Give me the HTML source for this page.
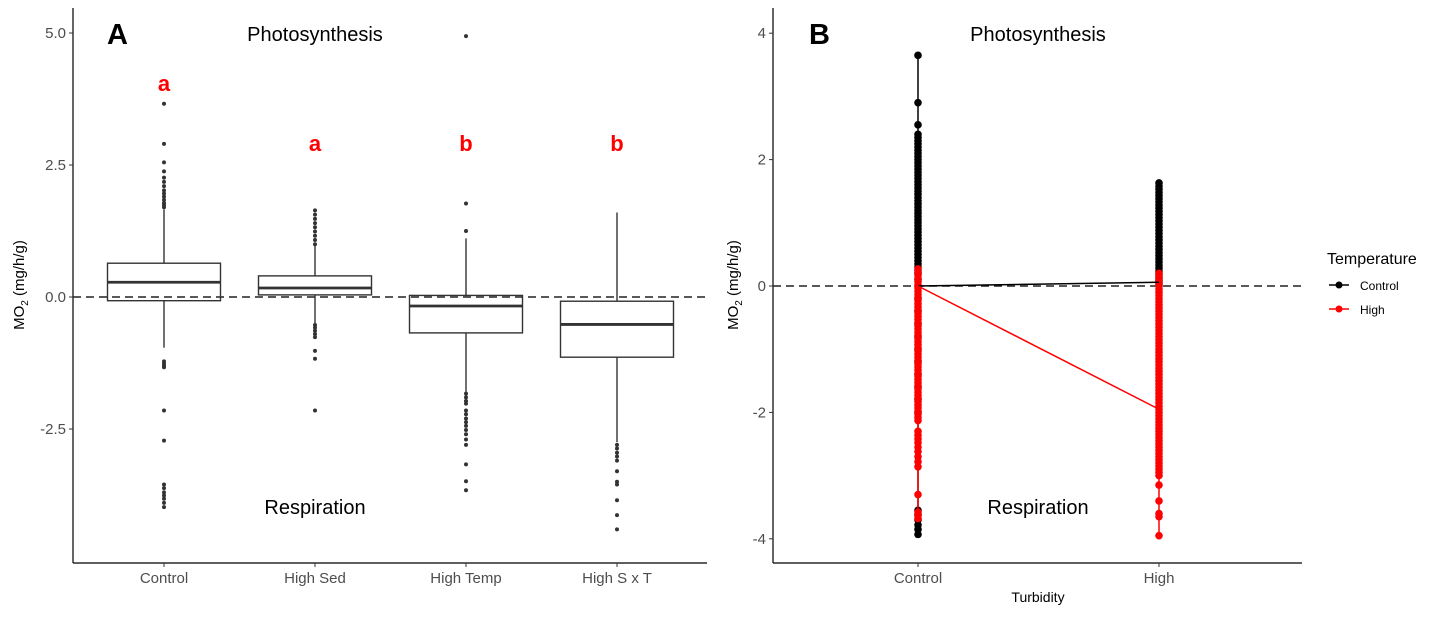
<!DOCTYPE html>
<html><head><meta charset="utf-8"><style>
body{margin:0;background:#fff;width:1430px;height:617px;overflow:hidden}
svg{font-family:"Liberation Sans",sans-serif}
</style></head><body>
<svg id="chart" width="1430" height="617">
<g id="pa"></g>
<g id="pb"></g>
</svg>
<script>
// Panel A data
const catsA = ["Control","High Sed","High Temp","High S x T"];
const boxQ1 = [-0.07, 0.04, -0.68, -1.14];
const boxMed = [0.28, 0.17, -0.17, -0.52];
const boxQ3 = [0.64, 0.40, 0.03, -0.08];
const whiskLo = [-0.96, -0.51, -1.81, -2.75];
const whiskHi = [1.66, 0.98, 1.11, 1.60];
const outliers = [
 [3.66,2.9,2.55,2.38,2.26,2.18,2.1,2.02,1.96,1.9,1.84,1.78,1.74,1.7,-1.22,-1.26,-1.3,-1.33,-2.15,-2.72,-3.55,-3.62,-3.7,-3.76,-3.82,-3.9,-3.98],
 [1.64,1.56,1.48,1.4,1.32,1.24,1.16,1.08,1.0,-0.53,-0.58,-0.64,-0.7,-0.76,-1.02,-1.17,-2.15],
 [4.94,1.77,1.25,-1.83,-1.9,-1.97,-2.02,-2.15,-2.22,-2.3,-2.37,-2.44,-2.52,-2.6,-2.7,-2.8,-3.17,-3.49,-3.66],
 [-2.8,-2.87,-2.95,-3.02,-3.1,-3.3,-3.5,-3.55,-3.85,-4.13,-4.4]
];
const letters = ["a","a","b","b"];
const letterY = [4.05, 2.92, 2.92, 2.92];
const ticksA = [5.0, 2.5, 0.0, -2.5];
const tickLabA = ["5.0","2.5","0.0","-2.5"];
// Panel B data
const catsB = ["Control","High"];
const meansCtrl = [0.0, 0.06];
const meansHigh = [0.0, -1.95];
const ctrlPtsC = [3.65,2.9,2.55,2.4,2.35,2.3,2.25,2.2,2.15,2.1,2.05,2.0,1.95,1.9,1.85,1.8,1.75,1.7,1.65,1.6,1.55,1.5,1.45,1.4,1.35,1.3,1.25,1.2,1.15,1.1,1.05,1.0,0.95,0.9,0.85,0.8,0.75,0.7,0.65,0.6,0.55,0.5,0.45,0.4,0.35,0.3,0.25,0.2,0.1,0.0,-0.2,-0.4,-0.6,-0.8,-1.0,-1.2,-1.4,-1.6,-1.8,-2.0,-3.55,-3.62,-3.7,-3.78,-3.85,-3.93];
const highPtsC = [0.27,0.22,0.17,0.12,0.07,0.02,-0.03,-0.08,-0.13,-0.18,-0.23,-0.28,-0.33,-0.38,-0.43,-0.48,-0.53,-0.58,-0.63,-0.68,-0.73,-0.78,-0.83,-0.88,-0.93,-0.98,-1.03,-1.08,-1.13,-1.18,-1.23,-1.28,-1.33,-1.38,-1.43,-1.48,-1.53,-1.58,-1.63,-1.68,-1.73,-1.78,-1.83,-1.88,-1.93,-1.98,-2.03,-2.08,-2.13,-2.3,-2.36,-2.42,-2.48,-2.55,-2.62,-2.7,-2.78,-2.86,-3.3,-3.58,-3.64,-3.68];
const ctrlPtsH = [1.63,1.58,1.53,1.48,1.43,1.38,1.33,1.28,1.23,1.18,1.13,1.08,1.03,0.98,0.93,0.88,0.83,0.78,0.73,0.68,0.63,0.58,0.53,0.48,0.43,0.38,0.33,0.28,0.23,0.18,0.13,0.08,0.03];
const highPtsH = [0.2,0.15,0.1,0.05,0.0,-0.05,-0.1,-0.15,-0.2,-0.25,-0.3,-0.35,-0.4,-0.45,-0.5,-0.55,-0.6,-0.65,-0.7,-0.75,-0.8,-0.85,-0.9,-0.95,-1.0,-1.05,-1.1,-1.15,-1.2,-1.25,-1.3,-1.35,-1.4,-1.45,-1.5,-1.55,-1.6,-1.65,-1.7,-1.75,-1.8,-1.85,-1.9,-1.95,-2.0,-2.05,-2.1,-2.15,-2.2,-2.25,-2.3,-2.35,-2.4,-2.45,-2.5,-2.55,-2.6,-2.65,-2.7,-2.75,-2.8,-2.85,-2.9,-2.95,-3.0,-3.15,-3.4,-3.6,-3.65,-3.95];
const ticksB = [4,2,0,-2,-4];

const NS="http://www.w3.org/2000/svg";
function mk(p,tag,at,txt){const e=document.createElementNS(NS,tag);for(const k in at)e.setAttribute(k,at[k]);if(txt!==undefined)e.textContent=txt;p.appendChild(e);return e;}
const pa=document.getElementById('pa'), pb=document.getElementById('pb');
const yA=v=>297-v*52.8;
const xA=i=>164+i*151;
const yB=v=>286-v*63.2;
const xB=i=>918+i*241;
const tc="#4d4d4d";

let e;
e=mk(pa,'line',{x1:73,y1:8,x2:73,y2:563,stroke:'#000','stroke-width':1.2});

e=mk(pa,'line',{x1:73,y1:563,x2:707,y2:563,stroke:'#000','stroke-width':1.2});

ticksA.forEach((t,i)=>{mk(pa,'line',{x1:69,x2:73,y1:yA(t),y2:yA(t),stroke:'#333'});
 e=mk(pa,'text',{x:66,y:yA(t)+5,'text-anchor':'end','font-size':15,fill:tc},tickLabA[i]);
 });
catsA.forEach((c,i)=>{mk(pa,'line',{x1:xA(i),x2:xA(i),y1:563,y2:567,stroke:'#333'});
 e=mk(pa,'text',{x:xA(i),y:583,'text-anchor':'middle','font-size':15,fill:tc},c);
 });
e=mk(pa,'text',{x:0,y:0,transform:'translate(24,285) rotate(-90)','text-anchor':'middle','font-size':15},'');

e.innerHTML='MO<tspan font-size="10" dy="4">2</tspan><tspan dy="-4"> (mg/h/g)</tspan>';
mk(pa,'line',{x1:73,x2:707,y1:yA(0),y2:yA(0),stroke:'#222','stroke-width':1.5,'stroke-dasharray':'8,5'});
catsA.forEach((c,i)=>{const x=xA(i),hw=56.5;
 const g=mk(pa,'g',{});
 
 mk(g,'line',{x1:x,x2:x,y1:yA(whiskHi[i]),y2:yA(boxQ3[i]),stroke:'#333','stroke-width':1.4});
 mk(g,'line',{x1:x,x2:x,y1:yA(boxQ1[i]),y2:yA(whiskLo[i]),stroke:'#333','stroke-width':1.4});
 mk(g,'rect',{x:x-hw,y:yA(boxQ3[i]),width:2*hw,height:yA(boxQ1[i])-yA(boxQ3[i]),fill:'none',stroke:'#333','stroke-width':1.4});
 mk(g,'line',{x1:x-hw,x2:x+hw,y1:yA(boxMed[i]),y2:yA(boxMed[i]),stroke:'#333','stroke-width':2.8});
 outliers[i].forEach(v=>{const d=mk(g,'circle',{cx:x,cy:yA(v),r:2,fill:'#333'});
  });
 e=mk(pa,'text',{x:x,y:yA(letterY[i])+8,'text-anchor':'middle','font-size':22,'font-weight':'bold',fill:'#f00'},letters[i]);
 
});
e=mk(pa,'text',{x:107,y:44,'font-size':29,'font-weight':'bold'},'A');
e=mk(pa,'text',{x:315,y:41,'text-anchor':'middle','font-size':20},'Photosynthesis');
e=mk(pa,'text',{x:315,y:514,'text-anchor':'middle','font-size':20},'Respiration');

e=mk(pb,'line',{x1:773,y1:8,x2:773,y2:563,stroke:'#000','stroke-width':1.2});

e=mk(pb,'line',{x1:773,y1:563,x2:1302,y2:563,stroke:'#000','stroke-width':1.2});

ticksB.forEach(t=>{mk(pb,'line',{x1:769,x2:773,y1:yB(t),y2:yB(t),stroke:'#333'});
 e=mk(pb,'text',{x:766,y:yB(t)+5,'text-anchor':'end','font-size':15,fill:tc},String(t));
 });
catsB.forEach((c,i)=>{mk(pb,'line',{x1:xB(i),x2:xB(i),y1:563,y2:567,stroke:'#333'});
 e=mk(pb,'text',{x:xB(i),y:583,'text-anchor':'middle','font-size':15,fill:tc},c);
 });
e=mk(pb,'text',{x:1038,y:602,'text-anchor':'middle','font-size':14},'Turbidity');

e=mk(pb,'text',{x:0,y:0,transform:'translate(738,285) rotate(-90)','text-anchor':'middle','font-size':15},'');

e.innerHTML='MO<tspan font-size="10" dy="4">2</tspan><tspan dy="-4"> (mg/h/g)</tspan>';
mk(pb,'line',{x1:773,x2:1302,y1:yB(0),y2:yB(0),stroke:'#222','stroke-width':1.5,'stroke-dasharray':'8,5'});
function column(pts,i,col,name){const g=mk(pb,'g',{});
 
 const mx=Math.max(...pts),mn=Math.min(...pts);
 mk(g,'line',{x1:xB(i),x2:xB(i),y1:yB(mx),y2:yB(mn),stroke:col,'stroke-width':1.5});
 pts.forEach(v=>{const d=mk(g,'circle',{cx:xB(i),cy:yB(v),r:3.8,fill:col});
  });}
column(ctrlPtsC,0,'#000','control-temp-control-turbidity');
column(ctrlPtsH,1,'#000','control-temp-high-turbidity');
column(highPtsC,0,'#f00','high-temp-control-turbidity');
column(highPtsH,1,'#f00','high-temp-high-turbidity');
e=mk(pb,'line',{x1:xB(0),x2:xB(1),y1:yB(meansCtrl[0]),y2:yB(meansCtrl[1]),stroke:'#000','stroke-width':1.5});

e=mk(pb,'line',{x1:xB(0),x2:xB(1),y1:yB(meansHigh[0]),y2:yB(meansHigh[1]),stroke:'#f00','stroke-width':1.5});

e=mk(pb,'text',{x:809,y:44,'font-size':29,'font-weight':'bold'},'B');
e=mk(pb,'text',{x:1038,y:41,'text-anchor':'middle','font-size':20},'Photosynthesis');
e=mk(pb,'text',{x:1038,y:514,'text-anchor':'middle','font-size':20},'Respiration');
const lg=mk(pb,'g',{});

mk(lg,'text',{x:1327,y:264,'font-size':16},'Temperature');
[["Control","#000",285],["High","#f00",309]].forEach(([n,c,y])=>{
 const g=mk(lg,'g',{});
 
 mk(g,'line',{x1:1329,x2:1349,y1:y,y2:y,stroke:c,'stroke-width':1.5});
 mk(g,'circle',{cx:1339,cy:y,r:3.5,fill:c});
 mk(g,'text',{x:1360,y:y+5,'font-size':12},n);});
</script>
</body></html>
